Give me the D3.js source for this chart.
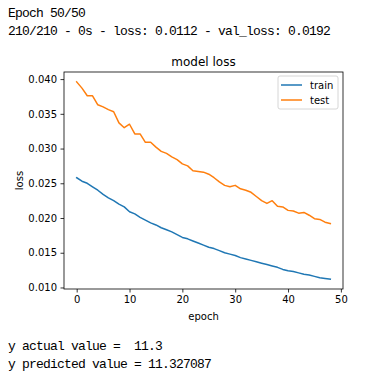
<!DOCTYPE html>
<html>
<head>
<meta charset="utf-8">
<script src="https://cdn.jsdelivr.net/npm/d3@7"></script>
<style>
  body { margin: 0; background: #fff; }
  .console { font-family: "Liberation Mono", monospace; font-size: 13px; letter-spacing: -0.8px; fill: #000; white-space: pre; }
  .chart text { font-family: "DejaVu Sans", sans-serif; fill: #000; }
</style>
</head>
<body>
<svg id="drawing_region"></svg>
<script>
// loss per epoch
const train_loss = [0.0258, 0.0253, 0.0250, 0.0245, 0.0240, 0.0234, 0.0229, 0.0225, 0.0220, 0.0216,
                    0.0209, 0.0206, 0.0201, 0.0197, 0.0193, 0.0190, 0.0186, 0.0183, 0.0180, 0.0176,
                    0.0172, 0.0170, 0.0167, 0.0164, 0.0161, 0.0158, 0.0156, 0.0153, 0.0150, 0.0148,
                    0.0146, 0.0143, 0.0141, 0.0139, 0.0137, 0.0135, 0.0133, 0.0131, 0.0129, 0.0126,
                    0.0124, 0.0123, 0.0121, 0.0119, 0.0118, 0.0116, 0.0114, 0.0113, 0.0112];
const test_loss = [0.0396, 0.0387, 0.0376, 0.0376, 0.0363, 0.0360, 0.0356, 0.0353, 0.0337, 0.0330,
                   0.0335, 0.0321, 0.0321, 0.0309, 0.0309, 0.0302, 0.0296, 0.0293, 0.0288, 0.0284,
                   0.0278, 0.0275, 0.0268, 0.0267, 0.0266, 0.0263, 0.0258, 0.0252, 0.0247, 0.0245,
                   0.0247, 0.0242, 0.0240, 0.0237, 0.0231, 0.0225, 0.0221, 0.0225, 0.0217, 0.0216,
                   0.0211, 0.0210, 0.0207, 0.0208, 0.0204, 0.0199, 0.0198, 0.0194, 0.0192];
const series_names = ['train', 'test'];
const colors = ['#1f77b4', '#ff7f0e'];
const x_ticks = [0, 10, 20, 30, 40, 50];
const y_ticks = [0.010, 0.015, 0.020, 0.025, 0.030, 0.035, 0.040];
const header_lines = ['Epoch 50/50', '210/210 - 0s - loss: 0.0112 - val_loss: 0.0192'];
const footer_lines = ['y actual value =  11.3', 'y predicted value = 11.327087'];

const config = {
    width: 391,
    height: 372,
    margin: {top: 72, right: 48, bottom: 83, left: 64}
};

const svg = d3.select('#drawing_region')
    .attr('width', config.width)
    .attr('height', config.height);

// console text above and below the figure
svg.selectAll('text.header')
    .data(header_lines)
    .join('text')
    .attr('class', 'console header')
    .attr('x', 8)
    .attr('y', (d, i) => 17 + i * 18)
    .text(d => d);

svg.selectAll('text.footer')
    .data(footer_lines)
    .join('text')
    .attr('class', 'console footer')
    .attr('x', 8)
    .attr('y', (d, i) => 350 + i * 18)
    .text(d => d);

const inner_width = config.width - config.margin.left - config.margin.right;
const inner_height = config.height - config.margin.top - config.margin.bottom;

const chart = svg.append('g')
    .attr('class', 'chart')
    .attr('transform', `translate(${config.margin.left}, ${config.margin.top})`);

// matplotlib style 5% margins
const n = train_loss.length - 1;
const all = train_loss.concat(test_loss);
const ymin = d3.min(all), ymax = d3.max(all);
const xscale = d3.scaleLinear()
    .domain([-0.05 * n, n * 1.05])
    .range([0, inner_width]);
const yscale = d3.scaleLinear()
    .domain([ymin - 0.05 * (ymax - ymin), ymax + 0.05 * (ymax - ymin)])
    .range([inner_height, 0]);

const xaxis = d3.axisBottom(xscale)
    .tickValues(x_ticks)
    .tickSize(3.5)
    .tickPadding(3.5)
    .tickSizeOuter(0);
const yaxis = d3.axisLeft(yscale)
    .tickValues(y_ticks)
    .tickFormat(d3.format('.3f'))
    .tickSize(3.5)
    .tickPadding(3.5)
    .tickSizeOuter(0);

const xaxis_group = chart.append('g')
    .attr('transform', `translate(0, ${inner_height})`)
    .call(xaxis);
const yaxis_group = chart.append('g')
    .call(yaxis);

[xaxis_group, yaxis_group].forEach(g => {
    g.select('.domain').remove();
    g.selectAll('.tick line').attr('stroke', '#000').attr('stroke-width', 0.8);
    g.selectAll('.tick text').attr('font-size', 10).attr('font-family', 'DejaVu Sans').attr('fill', '#000');
});

// lines
const line = d3.line()
    .x((d, i) => xscale(i))
    .y(d => yscale(d));

chart.selectAll('path.series')
    .data([train_loss, test_loss])
    .join('path')
    .attr('class', 'series')
    .attr('d', line)
    .attr('fill', 'none')
    .attr('stroke', (d, i) => colors[i])
    .attr('stroke-width', 1.5)
    .attr('stroke-linejoin', 'round')
    .attr('stroke-linecap', 'square');

// frame
chart.append('rect')
    .attr('width', inner_width)
    .attr('height', inner_height)
    .attr('fill', 'none')
    .attr('stroke', '#000')
    .attr('stroke-width', 0.8);

// title and labels
chart.append('text')
    .attr('x', inner_width / 2)
    .attr('y', -6)
    .attr('text-anchor', 'middle')
    .attr('font-size', 12)
    .text('model loss');

chart.append('text')
    .attr('x', inner_width / 2)
    .attr('y', inner_height + 31)
    .attr('text-anchor', 'middle')
    .attr('font-size', 10)
    .text('epoch');

chart.append('text')
    .attr('transform', `translate(${-41}, ${inner_height / 2}) rotate(-90)`)
    .attr('text-anchor', 'middle')
    .attr('font-size', 10)
    .text('loss');

// legend
const legend = chart.append('g')
    .attr('transform', `translate(${inner_width - 65}, 4)`);

legend.append('rect')
    .attr('width', 60)
    .attr('height', 33)
    .attr('rx', 2)
    .attr('fill', '#fff')
    .attr('fill-opacity', 0.8)
    .attr('stroke', '#cccccc')
    .attr('stroke-width', 0.8);

const items = legend.selectAll('g.item')
    .data(series_names)
    .join('g')
    .attr('class', 'item')
    .attr('transform', (d, i) => `translate(0, ${9 + i * 15})`);

items.append('line')
    .attr('x1', 3)
    .attr('x2', 24)
    .attr('stroke', (d, i) => colors[i])
    .attr('stroke-width', 1.5);

items.append('text')
    .attr('x', 32)
    .attr('dy', '0.35em')
    .attr('font-size', 10)
    .text(d => d);
</script>
</body>
</html>
